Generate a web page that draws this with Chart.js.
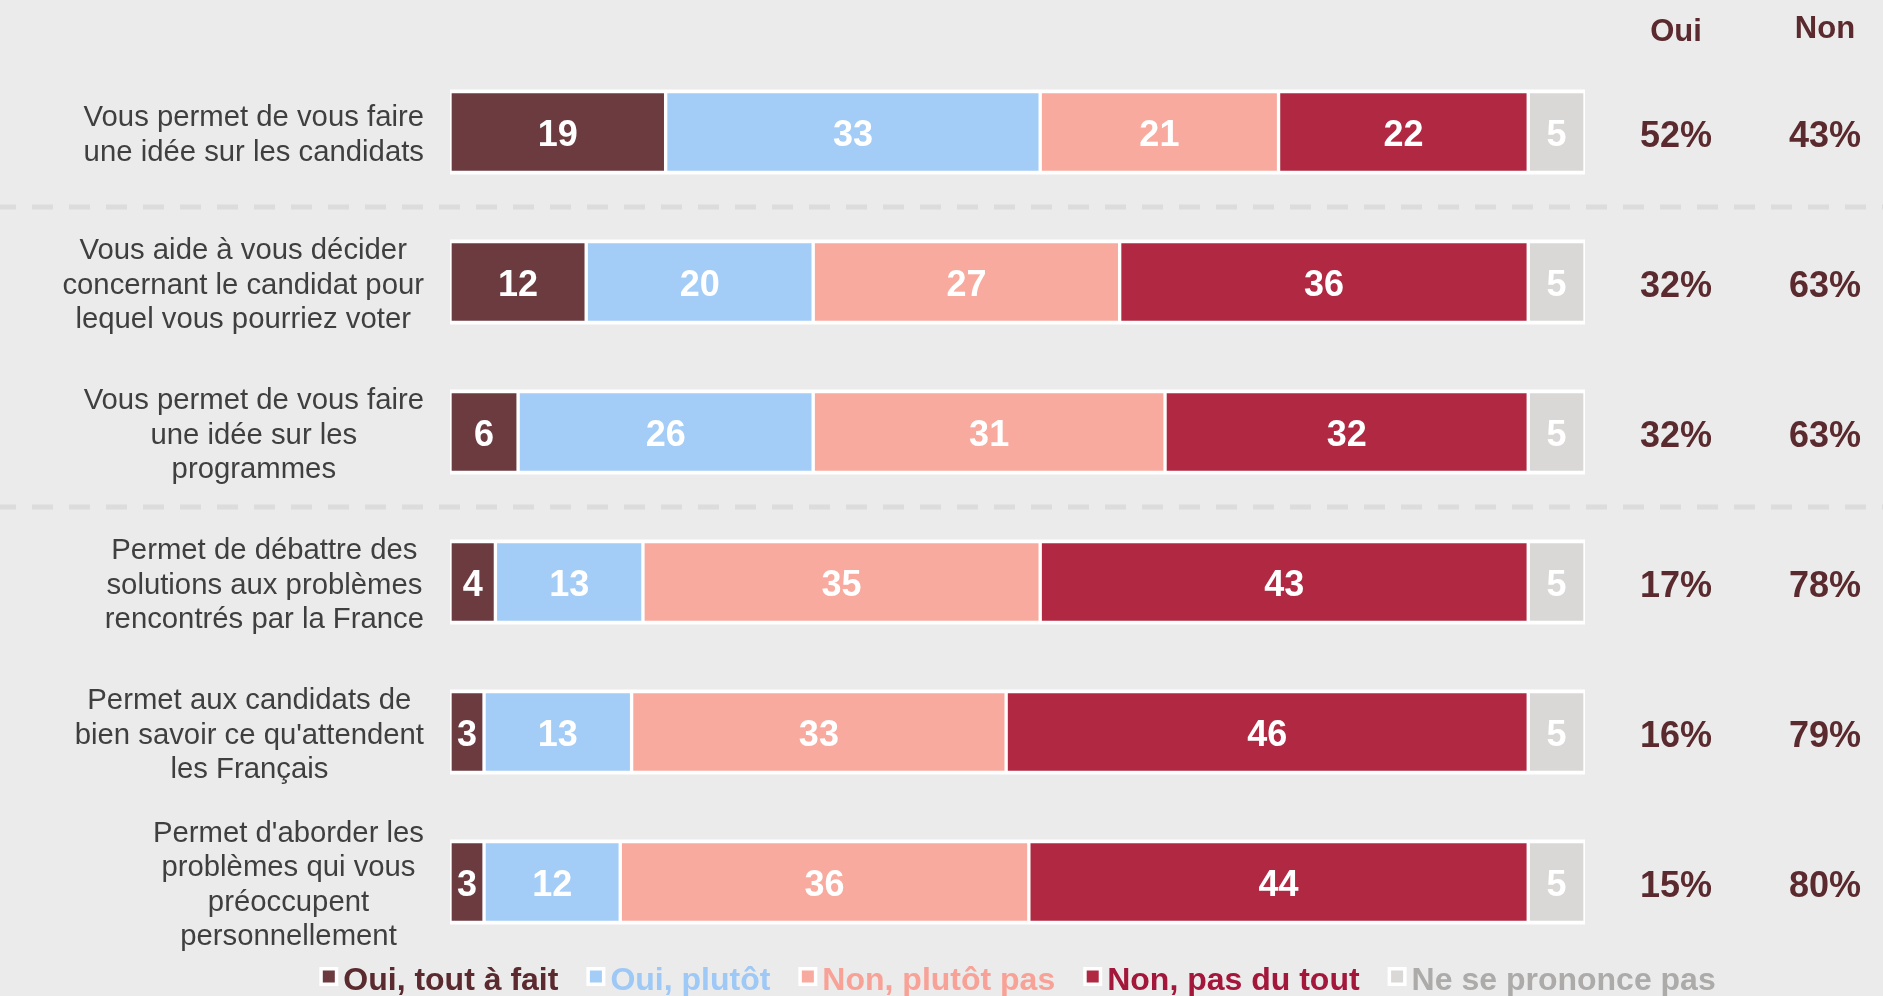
<!DOCTYPE html>
<html>
<head>
<meta charset="utf-8">
<script src="https://cdn.jsdelivr.net/npm/chart.js@4/dist/chart.umd.min.js"></script>
<style>
  html, body { margin: 0; padding: 0; background: #ebebeb; overflow: hidden; }
  #wrap { width: 1883px; height: 996px; position: relative; }
</style>
</head>
<body>
<div id="wrap"><canvas id="c"></canvas></div>
<script>
// ---- Data ----
const categories = [
  ["Vous permet de vous faire", "une idée sur les candidats"],
  ["Vous aide à vous décider", "concernant le candidat pour", "lequel vous pourriez voter"],
  ["Vous permet de vous faire", "une idée sur les", "programmes"],
  ["Permet de débattre des", "solutions aux problèmes", "rencontrés par la France"],
  ["Permet aux candidats de", "bien savoir ce qu'attendent", "les Français"],
  ["Permet d'aborder les", "problèmes qui vous", "préoccupent", "personnellement"]
];
const seriesNames = ["Oui, tout à fait", "Oui, plutôt", "Non, plutôt pas", "Non, pas du tout", "Ne se prononce pas"];
const ouiToutAFait = [19, 12, 6, 4, 3, 3];
const ouiPlutot    = [33, 20, 26, 13, 13, 12];
const nonPlutotPas = [21, 27, 31, 35, 33, 36];
const nonPasDuTout = [22, 36, 32, 43, 46, 44];
const nsp          = [5, 5, 5, 5, 5, 5];
const columnHeaders = ["Oui", "Non"];
const ouiTotals = ["52%", "32%", "32%", "17%", "16%", "15%"];
const nonTotals = ["43%", "63%", "63%", "78%", "79%", "80%"];
const separatorsAfter = [0, 2];

// ---- Styles ----
const barColors = ["#6b3b40", "#a3cdf7", "#f8aa9e", "#b02841", "#d9d8d6"];
const legendTextColors = ["#5b2a2f", "#9ec8f5", "#f8a297", "#a3173a", "#acabaa"];
const totalColor = "#5a2a2e";
const labelColor = "#3f3f3f";
const FONT = '"Liberation Sans", Arial, Helvetica, sans-serif';

const seriesData = [ouiToutAFait, ouiPlutot, nonPlutotPas, nonPasDuTout, nsp];
const datasets = seriesData.map((d, i) => ({
  label: seriesNames[i],
  data: d,
  backgroundColor: barColors[i],
  borderColor: "#ffffff",
  borderWidth: 2,
  borderSkipped: false,
  barThickness: 81
}));

const drawPlugin = {
  id: "drawPlugin",
  beforeDraw(chart) {
    const ctx = chart.ctx;
    ctx.save();
    ctx.fillStyle = "#ebebeb";
    ctx.fillRect(0, 0, chart.width, chart.height);
    ctx.restore();
  },
  beforeDatasetsDraw(chart) {
    const ctx = chart.ctx;
    const x = chart.scales.x, y = chart.scales.y;
    ctx.save();
    // dashed separators
    ctx.strokeStyle = "#dcdcdc";
    ctx.lineWidth = 5;
    ctx.setLineDash([21, 16]);
    ctx.lineDashOffset = 5;
    separatorsAfter.forEach(i => {
      const yy = Math.round((y.getPixelForValue(i) + y.getPixelForValue(i + 1)) / 2);
      ctx.beginPath();
      ctx.moveTo(0, yy);
      ctx.lineTo(chart.width, yy);
      ctx.stroke();
    });
    ctx.setLineDash([]);
    // white frame behind each bar row
    ctx.fillStyle = "#ffffff";
    categories.forEach((c, i) => {
      const yc = y.getPixelForValue(i);
      const x0 = x.getPixelForValue(0), x1 = x.getPixelForValue(100);
      ctx.fillRect(x0, yc - 42.5, x1 - x0, 85);
    });
    ctx.restore();
  },
  afterDatasetsDraw(chart) {
    const ctx = chart.ctx;
    const y = chart.scales.y;
    const area = chart.chartArea;
    ctx.save();
    // values inside segments
    ctx.font = "bold 36px " + FONT;
    ctx.fillStyle = "#ffffff";
    ctx.textAlign = "center";
    ctx.textBaseline = "middle";
    chart.data.datasets.forEach((ds, di) => {
      const meta = chart.getDatasetMeta(di);
      meta.data.forEach((el, i) => {
        const cx = (el.x + el.base) / 2;
        ctx.fillText(String(ds.data[i]), cx, el.y + 4);
      });
    });
    // category labels: block right aligned, lines centred
    ctx.font = "29.3px " + FONT;
    ctx.fillStyle = labelColor;
    const rightEdge = area.left - 26;
    const lineH = 34.5;
    categories.forEach((lines, i) => {
      const yc = y.getPixelForValue(i);
      let maxW = 0;
      lines.forEach(l => { maxW = Math.max(maxW, ctx.measureText(l).width); });
      const cx = rightEdge - maxW / 2;
      const y0 = yc - (lines.length - 1) * lineH / 2;
      lines.forEach((l, k) => ctx.fillText(l, cx, y0 + k * lineH + 3.5));
    });
    // totals columns
    const colX = [area.right + 91, area.right + 240];
    ctx.fillStyle = totalColor;
    ctx.font = "bold 31px " + FONT;
    ctx.fillText(columnHeaders[0], colX[0], 32.5);
    ctx.fillText(columnHeaders[1], colX[1], 29);
    ctx.font = "bold 36px " + FONT;
    categories.forEach((c, i) => {
      const yc = y.getPixelForValue(i) + 5;
      ctx.fillText(ouiTotals[i], colX[0], yc);
      ctx.fillText(nonTotals[i], colX[1], yc);
    });
    // legend
    ctx.font = "bold 32px " + FONT;
    ctx.textAlign = "left";
    const markerW = 19, textOff = 24, gap = 28;
    const widths = seriesNames.map(n => ctx.measureText(n).width);
    const total = widths.reduce((a, w) => a + textOff + w, 0) + gap * (seriesNames.length - 1);
    let lx = (area.left + area.right) / 2 - total / 2;
    const ly = chart.height - 17;
    seriesNames.forEach((n, i) => {
      ctx.fillStyle = "#ffffff";
      ctx.fillRect(lx, ly - 12, markerW, markerW);
      ctx.fillStyle = barColors[i];
      ctx.fillRect(lx + 3.5, ly - 8.5, 12, 12);
      ctx.fillStyle = legendTextColors[i];
      ctx.fillText(n, lx + textOff, ly + 2);
      lx += textOff + widths[i] + gap;
    });
    ctx.restore();
  }
};

new Chart(document.getElementById("c"), {
  type: "bar",
  data: { labels: categories.map(c => c.join(" ")), datasets },
  options: {
    indexAxis: "y",
    responsive: true,
    maintainAspectRatio: false,
    animation: false,
    layout: { padding: { left: 450, right: 298, top: 57, bottom: 39 } },
    scales: {
      x: { stacked: true, min: 0, max: 100, display: false },
      y: { stacked: true, display: false }
    },
    plugins: {
      legend: { display: false },
      tooltip: { enabled: false }
    }
  },
  plugins: [drawPlugin]
});
</script>
</body>
</html>
